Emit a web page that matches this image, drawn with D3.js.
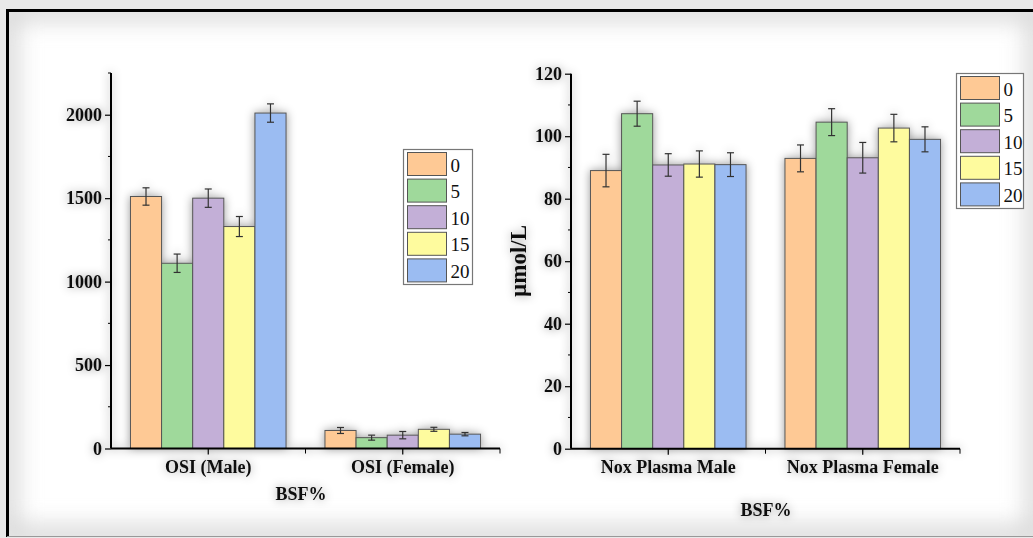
<!DOCTYPE html>
<html>
<head>
<meta charset="utf-8">
<script src="https://cdn.jsdelivr.net/npm/d3@7"></script>
<style>
  html, body { margin: 0; padding: 0; background: #e9e9e9; }
  svg { display: block; }
  text { font-family: "Liberation Serif", "Times New Roman", serif; fill: #111; }
</style>
</head>
<body>
<svg id="chart" width="1033" height="538"></svg>
<script>
// BSF% levels (series)
const levels = ['0', '5', '10', '15', '20']
const colors = ['#fec995', '#9fd99b', '#c3afd7', '#fefb9e', '#9bbcf2']

// left panel: OSI
const osiGroups = ['OSI (Male)', 'OSI (Female)']
const osiMean = [
  [1510, 1110, 1500, 1330, 2010],
  [108, 65, 80, 115, 86]
]
const osiErr = [
  [52, 55, 55, 60, 55],
  [18, 15, 22, 12, 10]
]
const osiMajor = [0, 500, 1000, 1500, 2000]
const osiMinor = [250, 750, 1250, 1750, 2250]

// right panel: Nox plasma
const noxGroups = ['Nox Plasma Male', 'Nox Plasma Female']
const noxMean = [
  [89, 107.2, 90.8, 91.1, 90.9],
  [92.9, 104.5, 93.1, 102.6, 99]
]
const noxErr = [
  [5.2, 4, 3.6, 4.2, 3.8],
  [4.3, 4.3, 4.9, 4.4, 4]
]
const noxMajor = [0, 20, 40, 60, 80, 100, 120]
const noxMinor = [10, 30, 50, 70, 90, 110]

const svg = d3.select('#chart')
const defs = svg.append('defs')

defs.append('filter').attr('id', 'shadow')
  .attr('x', '-20%').attr('y', '-20%').attr('width', '140%').attr('height', '140%')
  .append('feDropShadow')
    .attr('dx', 0).attr('dy', 0).attr('stdDeviation', 5)
    .attr('flood-color', '#000').attr('flood-opacity', 0.4)

defs.append('filter').attr('id', 'blur')
  .append('feGaussianBlur').attr('stdDeviation', 12)

defs.append('clipPath').attr('id', 'frameClip')
  .append('rect').attr('x', 7).attr('y', 10).attr('width', 1030).attr('height', 526)

// frame with soft inner vignette
svg.append('rect').attr('x', 7).attr('y', 10).attr('width', 1030).attr('height', 526).attr('fill', '#fff')
svg.append('g').attr('clip-path', 'url(#frameClip)')
  .append('rect').attr('x', 7).attr('y', 10).attr('width', 1030).attr('height', 526)
    .attr('fill', 'none').attr('stroke', '#d0d0d0').attr('stroke-width', 18)
    .attr('filter', 'url(#blur)')
svg.append('path').attr('d', 'M7.5,537 V10.5 H1033')
  .attr('fill', 'none').attr('stroke', '#000').attr('stroke-width', 3)
svg.append('line').attr('x1', 7).attr('x2', 1033).attr('y1', 536.5).attr('y2', 536.5)
  .attr('stroke', '#999').attr('stroke-width', 1)

const drawPanel = (opt) => {
  const { left, right, top, bottom, max, groups, mean, err, major, minor } = opt
  const g = svg.append('g').attr('filter', 'url(#shadow)')

  const y = d3.scaleLinear().domain([0, max]).range([bottom, top])
  const x0 = d3.scaleBand().domain(groups).range([left, right])
  const bw = x0.bandwidth()
  const x1 = d3.scaleBand().domain(levels).range([bw * 0.1, bw * 0.9])

  // bars
  groups.forEach((grp, gi) => {
    const gg = g.append('g').attr('transform', `translate(${x0(grp)},0)`)
    const rows = levels.map((l, i) => ({ l, i, v: mean[gi][i], e: err[gi][i] }))
    gg.selectAll('rect').data(rows).join('rect')
      .attr('x', d => x1(d.l))
      .attr('y', d => y(d.v))
      .attr('width', x1.bandwidth())
      .attr('height', d => y(0) - y(d.v))
      .attr('fill', d => colors[d.i])
      .attr('stroke', '#555').attr('stroke-width', 1)
    const eb = gg.selectAll('g.err').data(rows).join('g').attr('class', 'err')
      .attr('stroke', '#333').attr('stroke-width', 1.2)
    const cx = d => x1(d.l) + x1.bandwidth() / 2
    eb.append('line')
      .attr('x1', cx).attr('x2', cx)
      .attr('y1', d => y(d.v + d.e)).attr('y2', d => y(d.v - d.e))
    eb.append('line')
      .attr('x1', d => cx(d) - 3.5).attr('x2', d => cx(d) + 3.5)
      .attr('y1', d => y(d.v + d.e)).attr('y2', d => y(d.v + d.e))
    eb.append('line')
      .attr('x1', d => cx(d) - 3.5).attr('x2', d => cx(d) + 3.5)
      .attr('y1', d => y(d.v - d.e)).attr('y2', d => y(d.v - d.e))
  })

  // y axis
  const ya = g.append('g').attr('transform', `translate(${left},0)`)
    .call(d3.axisLeft(y).tickValues(major).tickFormat(d3.format('d')).tickSize(6).tickPadding(3))
  ya.selectAll('text').style('font-size', '18px').style('font-weight', 'bold')
    .style('font-family', '"Liberation Serif", serif').attr('fill', '#111')
  ya.append('g').selectAll('line').data(minor).join('line')
    .attr('x1', -3).attr('x2', 0).attr('y1', d => y(d)).attr('y2', d => y(d))
    .attr('stroke', '#000')
  ya.select('.domain').attr('d', `M0,${top}V${bottom}`)

  // x axis
  const xa = g.append('g').attr('transform', `translate(0,${bottom})`)
    .call(d3.axisBottom(x0).tickSize(6).tickPadding(6))
  xa.selectAll('text').style('font-size', '18px').style('font-weight', 'bold')
    .style('font-family', '"Liberation Serif", serif').attr('fill', '#111')
  xa.append('g').selectAll('line').data(groups.slice(1).map(d => x0(d)).concat([right])).join('line')
    .attr('x1', d => d).attr('x2', d => d).attr('y1', 0).attr('y2', 5)
    .attr('stroke', '#000')
  xa.select('.domain').attr('d', `M${left},0H${right}`)

  g.selectAll('.domain').attr('stroke', '#000').attr('stroke-width', 2)
  g.selectAll('.tick line').attr('stroke', '#000').attr('stroke-width', 1.2)
  return g
}

const gl = drawPanel({
  left: 111, right: 500, top: 73, bottom: 448.5, max: 2250,
  groups: osiGroups, mean: osiMean, err: osiErr, major: osiMajor, minor: osiMinor
})
gl.append('text').attr('x', 301).attr('y', 500).attr('text-anchor', 'middle')
  .style('font-size', '18px').style('font-weight', 'bold').text('BSF%')

const gr = drawPanel({
  left: 571, right: 960, top: 73.7, bottom: 448.7, max: 120,
  groups: noxGroups, mean: noxMean, err: noxErr, major: noxMajor, minor: noxMinor
})
gr.append('text').attr('x', 766).attr('y', 516).attr('text-anchor', 'middle')
  .style('font-size', '18px').style('font-weight', 'bold').text('BSF%')
gr.append('text').attr('transform', 'translate(526,261) rotate(-90)').attr('text-anchor', 'middle')
  .style('font-size', '23px').style('font-weight', 'bold').text('µmol/L')

// legends
const drawLegend = (lx, ly, w) => {
  const lg = svg.append('g').attr('transform', `translate(${lx},${ly})`)
  lg.append('rect').attr('width', w).attr('height', 135).attr('fill', '#fff')
    .attr('stroke', '#777').attr('stroke-width', 1.2)
  const row = lg.selectAll('g').data(levels).join('g')
    .attr('transform', (d, i) => `translate(4,${3 + i * 26.6})`)
  row.append('rect').attr('width', 39).attr('height', 23)
    .attr('fill', (d, i) => colors[i]).attr('stroke', '#555').attr('stroke-width', 1)
  row.append('text').attr('x', 43).attr('y', 19).style('font-size', '19px').text(d => d)
}
drawLegend(403.5, 149.5, 69)
drawLegend(956.5, 73.5, 67)
</script>
</body>
</html>
